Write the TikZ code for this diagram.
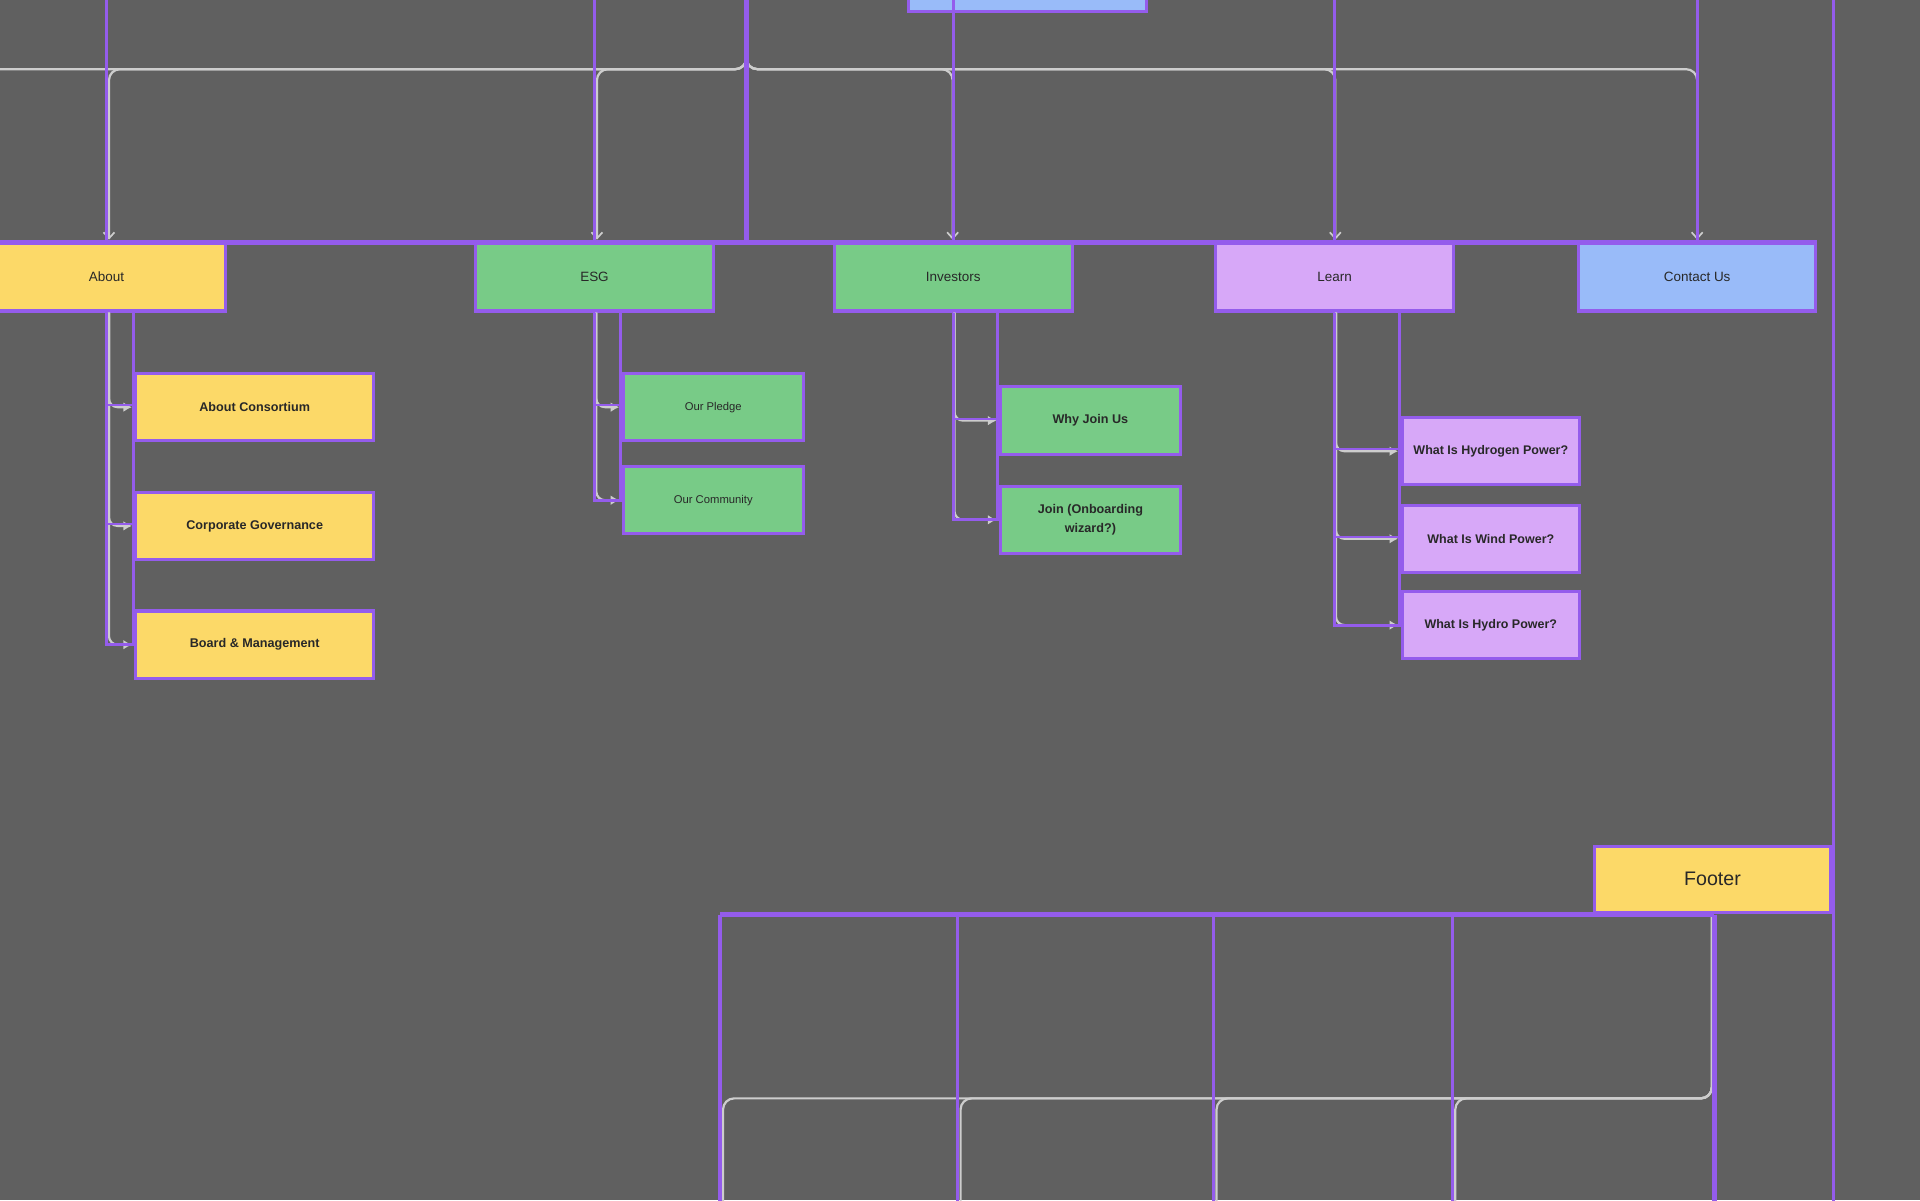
\documentclass[tikz,border=0pt]{standalone}
\usepackage{fontspec}
\setmainfont{Liberation Sans}
\usetikzlibrary{arrows.meta}
\definecolor{bgc}{RGB}{96,96,96}
\definecolor{pur}{RGB}{148,92,236}
\definecolor{yel}{RGB}{252,217,104}
\definecolor{grn}{RGB}{120,203,135}
\definecolor{lav}{RGB}{215,168,248}
\definecolor{blu}{RGB}{153,187,249}
\definecolor{cwire}{RGB}{205,205,205}
\definecolor{txt}{RGB}{40,40,40}
\tikzset{
  boxbase/.style={draw=pur, line width=2.5pt, inner sep=2pt, text=txt, align=center},
  topbox/.style={boxbase, minimum width=194pt, minimum height=56pt, font=\fontsize{11}{13}\selectfont},
  kidbox/.style={boxbase, minimum width=194pt, minimum height=55pt, font=\fontsize{10.3}{12}\selectfont\bfseries},
  smallkid/.style={boxbase, minimum width=147pt, minimum height=55pt},
  conn/.style={draw=cwire, line width=1.8pt, rounded corners=9pt},
  connarrow/.style={conn, -{Straight Barb[length=5pt,width=9pt,line width=1.4pt]}, shorten >=1pt},
  kidarrow/.style={conn, rounded corners=7pt, -{Latex[length=7pt,width=8pt]}, shorten >=2pt},
  pthick/.style={draw=pur, line width=4.5pt},
  pthin/.style={draw=pur, line width=2.5pt},
  pseg/.style={draw=pur, line width=1.6pt}
}
\begin{document}
\begin{tikzpicture}[x=1pt,y=-1pt]
\useasboundingbox (0,0) rectangle (1568,980);
\fill[bgc] (0,0) rectangle (1568,980);
\clip (0,0) rectangle (1568,980);

% ---------- nodes ----------
\node[topbox, fill=blu, minimum height=60pt] (home) at (839,-20.5) {};
\node[topbox, fill=yel] (about) at (87,226) {About};
\node[topbox, fill=grn] (esg) at (485.5,226) {ESG};
\node[topbox, fill=grn] (inv) at (778.5,226) {Investors};
\node[topbox, fill=lav] (learn) at (1090,226) {Learn};
\node[topbox, fill=blu] (contact) at (1386,226) {Contact Us};

\node[kidbox, fill=yel] (ac) at (208,332.5) {About Consortium};
\node[kidbox, fill=yel] (cg) at (208,429.5) {Corporate Governance};
\node[kidbox, fill=yel] (bm) at (208,526.5) {Board \& Management};

\node[smallkid, fill=grn, font=\fontsize{9.2}{11}\selectfont] (pledge) at (582.5,332.5) {Our Pledge};
\node[smallkid, fill=grn, font=\fontsize{9.2}{11}\selectfont] (community) at (582.5,408.5) {Our Community};

\node[smallkid, fill=grn, font=\fontsize{10.3}{12}\selectfont\bfseries] (why) at (890.5,343.5) {Why Join Us};
\node[smallkid, fill=grn, font=\fontsize{10.3}{16}\selectfont\bfseries] (join) at (890.5,424.5) {Join (Onboarding\\wizard?)};

\node[smallkid, fill=lav, minimum width=145pt, font=\fontsize{10.2}{12}\selectfont\bfseries] (hyd) at (1217.5,368.5) {What Is Hydrogen Power?};
\node[smallkid, fill=lav, minimum width=145pt, font=\fontsize{10.2}{12}\selectfont\bfseries] (wind) at (1217.5,440) {What Is Wind Power?};
\node[smallkid, fill=lav, minimum width=145pt, font=\fontsize{10.2}{12}\selectfont\bfseries] (hydro) at (1217.5,510.5) {What Is Hydro Power?};

\node[topbox, fill=yel, minimum width=193pt, minimum height=54pt, font=\fontsize{16}{18}\selectfont] (footer) at (1398.5,718) {Footer};

% ---------- coordinates ----------
\coordinate (trunk) at (609.5,-10);
\coordinate (bus) at (0,56.5);
\coordinate (offL) at (-60,240);
\coordinate (aboutin) at ([xshift=2pt]about.north);
\coordinate (esgin) at ([xshift=2pt]esg.north);
\coordinate (invin) at ([xshift=-0.5pt]inv.north);
\coordinate (learnin) at ([xshift=0.5pt]learn.north);
\coordinate (contactin) at ([xshift=0pt]contact.north);

\coordinate (aboutout) at ([xshift=2pt]about.south);
\coordinate (esgout) at ([xshift=1.5pt]esg.south);
\coordinate (invout) at ([xshift=1pt]inv.south);
\coordinate (learnout) at ([xshift=1pt]learn.south);

\coordinate (fout) at ([xshift=-0.5pt]footer.south);
\coordinate (bbus) at (0,897);
\coordinate (b1) at (590.5,1010);
\coordinate (b2) at (784.5,1010);
\coordinate (b3) at (993.5,1010);
\coordinate (b4) at (1188.5,1010);
\coordinate (rowR) at (contact.north east |- 0,198);

% ---------- white connectors ----------
\draw[conn] (trunk) |- (offL |- bus) -- (offL);
\draw[connarrow] (trunk) |- (aboutin |- bus) -- (aboutin);
\draw[connarrow] (trunk) |- (esgin |- bus) -- (esgin);
\draw[connarrow] (trunk) |- (invin |- bus) -- (invin);
\draw[connarrow] (trunk) |- (learnin |- bus) -- (learnin);
\draw[connarrow] (trunk) |- (contactin |- bus) -- (contactin);

\draw[kidarrow] (aboutout) |- (ac.west);
\draw[kidarrow] (aboutout) |- (cg.west);
\draw[kidarrow] (aboutout) |- (bm.west);
\draw[kidarrow] (esgout) |- (pledge.west);
\draw[kidarrow] (esgout) |- (community.west);
\draw[kidarrow] (invout) |- (why.west);
\draw[kidarrow] (invout) |- (join.west);
\draw[kidarrow] (learnout) |- (hyd.west);
\draw[kidarrow] (learnout) |- (wind.west);
\draw[kidarrow] (learnout) |- (hydro.west);

\draw[conn] (fout) |- (b1 |- bbus) -- (b1);
\draw[conn] (fout) |- (b2 |- bbus) -- (b2);
\draw[conn] (fout) |- (b3 |- bbus) -- (b3);
\draw[conn] (fout) |- (b4 |- bbus) -- (b4);

% ---------- purple selection lines ----------
\draw[pthick] (trunk) -- (trunk |- about.north);
\draw[pthick] (0,198) -- (rowR);
\draw[pthin] (about.north |- 0,-10) -- (about.north);
\draw[pthin] (esg.north |- 0,-10) -- (esg.north);
\draw[pthin] (inv.north |- 0,-10) -- (inv.north);
\draw[pthin] (learn.north |- 0,-10) -- (learn.north);
\draw[pthin] (contact.north |- 0,-10) -- (contact.north);
\draw[pthin] (1497,-10) -- (1497,1000);

% child selection frames
\draw[pthin] (about.south) -- (about.south |- bm.west) -- ([xshift=-1pt]bm.west) -- ([xshift=-1pt]ac.north west |- about.south);
\draw[pthin] (esg.south) -- (esg.south |- community.west) -- ([xshift=-1pt]community.west) -- ([xshift=-1pt]pledge.north west |- esg.south);
\draw[pthin] (inv.south) -- (inv.south |- join.west) -- ([xshift=-1pt]join.west) -- ([xshift=-1pt]why.north west |- inv.south);
\draw[pthin] (learn.south) -- (learn.south |- hydro.west) -- ([xshift=-1pt]hydro.west) -- ([xshift=-1pt]hyd.north west |- learn.south);
\draw[pseg] ([yshift=1.5pt]about.south |- ac.west) -- ([yshift=1.5pt]ac.west);
\draw[pseg] ([yshift=1.5pt]about.south |- cg.west) -- ([yshift=1.5pt]cg.west);
\draw[pseg] ([yshift=1.5pt]esg.south |- pledge.west) -- ([yshift=1.5pt]pledge.west);
\draw[pseg] ([yshift=1.5pt]inv.south |- why.west) -- ([yshift=1.5pt]why.west);
\draw[pseg] ([yshift=1.5pt]learn.south |- hyd.west) -- ([yshift=1.5pt]hyd.west);
\draw[pseg] ([yshift=1.5pt]learn.south |- wind.west) -- ([yshift=1.5pt]wind.west);

% footer selection
\draw[pthick] (588,747) -- (1400,747);
\draw[pthick] (1400,747) -- (1400,1000);
\draw[pthin] (588,747) -- (588,1000);
\draw[pthin] (782,747) -- (782,1000);
\draw[pthin] (991,747) -- (991,1000);
\draw[pthin] (1186,747) -- (1186,1000);
\end{tikzpicture}
\end{document}
